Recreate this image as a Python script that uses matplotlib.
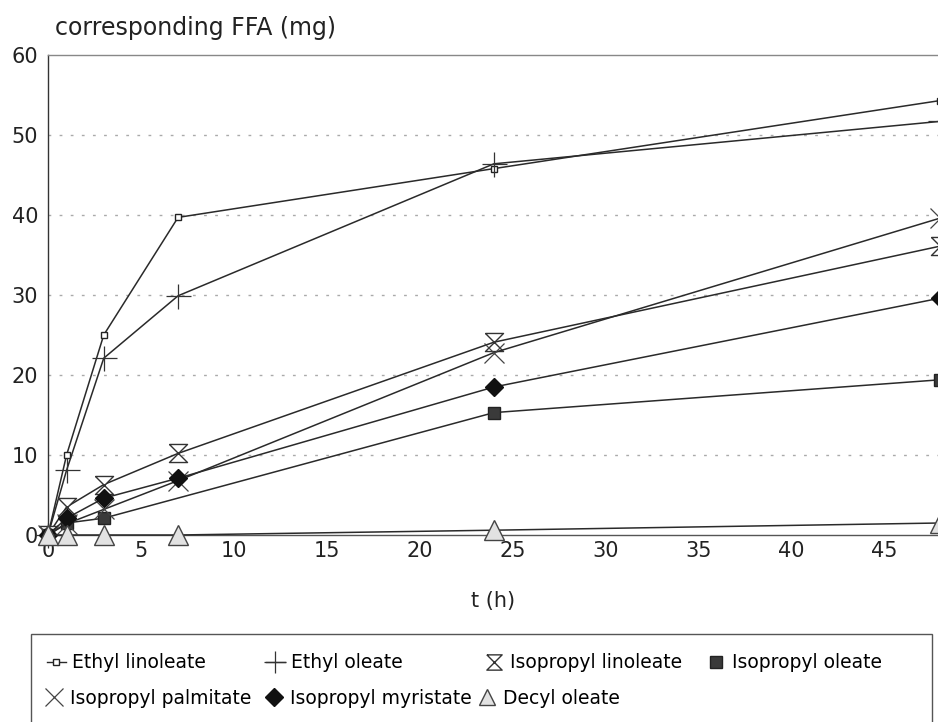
import matplotlib
matplotlib.use("Agg")
import matplotlib.pyplot as plt
from matplotlib.patches import Rectangle
from matplotlib.lines import Line2D

plt.rcParams['font.family'] = ['DejaVu Sans']

# sampling times (h)
t_all = [0, 1, 3, 7, 24, 48]
t_no7 = [0, 1, 3, 24, 48]

# corresponding FFA (mg)
ethyl_linoleate = [0, 10.0, 25.0, 39.7, 45.8, 54.3]
ethyl_oleate = [0, 8.1, 22.1, 29.9, 46.4, 51.7]
isopropyl_linoleate = [0, 3.5, 6.3, 10.2, 24.1, 36.1]
isopropyl_oleate = [0, 1.5, 2.1, 15.3, 19.4]
isopropyl_palmitate = [0, 1.4, 3.2, 6.8, 22.8, 39.6]
isopropyl_myristate = [0, 2.1, 4.6, 7.1, 18.5, 29.6]
decyl_oleate = [0, 0, 0, 0, 0.6, 1.5]

hourglass = [(-1, 1), (1, 1), (-1, -1), (1, -1), (-1, 1)]

series = [
    ("Ethyl linoleate", t_all, ethyl_linoleate, dict(marker='s', ms=5, mfc='white', mec='#222', mew=1.0)),
    ("Ethyl oleate", t_all, ethyl_oleate, dict(marker='+', ms=18, mec='#333', mew=0.9)),
    ("Isopropyl linoleate", t_all, isopropyl_linoleate, dict(marker=hourglass, ms=13, mfc='white', mec='#333', mew=1.0)),
    ("Isopropyl oleate", t_no7, isopropyl_oleate, dict(marker='s', ms=9, mfc='#3a3a3a', mec='#222', mew=1.0)),
    ("Isopropyl palmitate", t_all, isopropyl_palmitate, dict(marker='x', ms=14, mec='#444', mew=0.9)),
    ("Isopropyl myristate", t_all, isopropyl_myristate, dict(marker='D', ms=9, mfc='#111', mec='#111')),
    ("Decyl oleate", t_all, decyl_oleate, dict(marker='^', ms=15, mfc='#e2e2e2', mec='#444', mew=1.0)),
]

fig = plt.figure(figsize=(9.38, 7.22), dpi=100)
ax = fig.add_axes([48 / 938, 187 / 722, 1 - 48 / 938, 480 / 722])

handles = []
for name, t, y, style in series:
    ln, = ax.plot(t, y, color='#2a2a2a', lw=1.1, clip_on=False, zorder=3, label=name, **style)
    handles.append(ln)

ax.set_xlim(0, 47.9)
ax.set_ylim(0, 60)
ax.set_xticks(range(0, 50, 5))
ax.set_yticks(range(0, 70, 10))
ax.tick_params(length=0, labelsize=15, colors='#222')
ax.tick_params(axis='x', pad=4)
ax.tick_params(axis='y', pad=7)
for y in range(10, 60, 10):
    ax.axhline(y, color='#aaaaaa', lw=1.0, ls=(0, (2, 6)), zorder=1)

ax.spines['right'].set_visible(False)
ax.spines['top'].set_color('#888888')
ax.spines['left'].set_color('#333333')
ax.spines['bottom'].set_color('#555555')
for s in ax.spines.values():
    s.set_linewidth(1.0)

ax.set_xlabel("t (h)", fontsize=15, labelpad=22, color='#222')
fig.text(55 / 938, 1 - 28 / 722, "corresponding FFA (mg)", fontsize=17, va='center', ha='left', color='#222')

# legend box, open at the bottom edge
fig.patches.append(Rectangle((31 / 938, -0.02), (932 - 31) / 938, (722 - 634) / 722 + 0.02,
                             transform=fig.transFigure, fill=False, ec='#555555', lw=1.0))

legend_pos = [(47, 663), (266, 663), (485, 663), (707, 663),
              (45, 698), (265, 698), (478, 698)]
legend_ms = [5, 16, 11, 8, 13, 9, 11]
for h, (px, py), ms in zip(handles, legend_pos, legend_ms):
    proxy = Line2D([], [], color=h.get_color(), lw=1.0, marker=h.get_marker(), ms=ms,
                   mfc=h.get_markerfacecolor(), mec=h.get_markeredgecolor(), mew=h.get_markeredgewidth())
    if h.get_label() not in ("Ethyl linoleate", "Ethyl oleate"):
        proxy.set_linestyle('none')
    fig.legend([proxy], [h.get_label()], loc='center left',
               bbox_to_anchor=(px / 938, 1 - py / 722), frameon=False, fontsize=13.5,
               handlelength=1.0, handletextpad=0.35, borderpad=0, borderaxespad=0)

fig.savefig("out.png", dpi=100)
